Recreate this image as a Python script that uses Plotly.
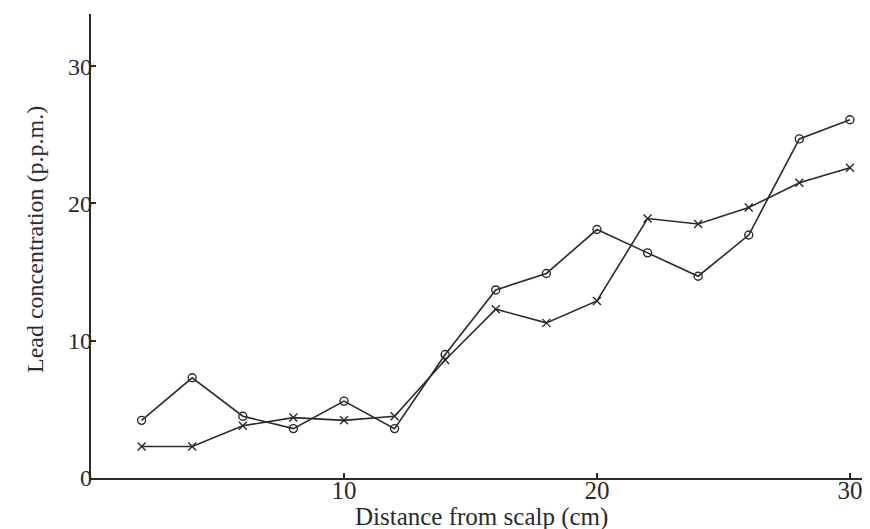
import plotly.graph_objects as go

distance_cm = [2, 4, 6, 8, 10, 12, 14, 16, 18, 20, 22, 24, 26, 28, 30]
lead_circles = [4.2, 7.3, 4.5, 3.6, 5.6, 3.6, 9.0, 13.7, 14.9, 18.1, 16.4, 14.7, 17.7, 24.7, 26.1]
lead_crosses = [2.3, 2.3, 3.8, 4.4, 4.2, 4.5, 8.6, 12.3, 11.3, 12.9, 18.9, 18.5, 19.7, 21.5, 22.6]
x_ticks = [10, 20, 30]
y_ticks = [0, 10, 20, 30]

ink = "#2a2a2a"
font_family = "Liberation Serif, Times New Roman, serif"

PLOT_W = 786  # plot area width in px
PLOT_H = 464  # plot area height in px

fig = go.Figure()
fig.add_trace(go.Scatter(
    x=distance_cm, y=lead_circles, mode="lines+markers",
    line=dict(color=ink, width=1.6),
    marker=dict(symbol="circle-open", size=8, color=ink, line=dict(width=1.4)),
    showlegend=False, cliponaxis=False,
))
fig.add_trace(go.Scatter(
    x=distance_cm, y=lead_crosses, mode="lines+markers",
    line=dict(color=ink, width=1.6),
    marker=dict(symbol="x-thin-open", size=8, color=ink, line=dict(width=1.4)),
    showlegend=False, cliponaxis=False,
))

fig.update_layout(
    width=870, height=529,
    margin=dict(l=83, r=1, t=6, b=59),
    paper_bgcolor="white", plot_bgcolor="white",
    font=dict(family=font_family, size=24, color=ink),
    # label-carrying axes, nudged closer to the drawn axis lines
    xaxis=dict(
        range=[0, 31.07], tickvals=x_ticks, ticks="", showline=False,
        showgrid=False, zeroline=False, tickfont=dict(size=25),
        anchor="free", position=5 / PLOT_H,
    ),
    yaxis=dict(
        range=[0, 33.8], tickvals=y_ticks, ticks="", showline=False,
        showgrid=False, zeroline=False, tickfont=dict(size=24),
        anchor="free", position=1 / PLOT_W,
    ),
    # line-and-tick axes
    xaxis2=dict(
        overlaying="x", matches="x", anchor="y", side="bottom",
        tickvals=x_ticks, ticks="inside", ticklen=5, tickwidth=1.5, tickcolor=ink,
        showline=True, linecolor=ink, linewidth=2, showticklabels=False,
        showgrid=False, zeroline=False,
    ),
    yaxis2=dict(
        overlaying="y", matches="y", anchor="x2", side="left",
        tickvals=y_ticks, ticks="inside", ticklen=5, tickwidth=1.5, tickcolor=ink,
        showline=True, linecolor=ink, linewidth=2, showticklabels=False,
        showgrid=False, zeroline=False,
    ),
    annotations=[
        dict(text="Distance from scalp (cm)", xref="paper", yref="paper",
             x=(473 - 83) / PLOT_W, y=-(509 - 470) / PLOT_H, xanchor="center", yanchor="middle",
             showarrow=False, font=dict(size=25)),
        dict(text="Lead concentration (p.p.m.)", xref="paper", yref="paper",
             x=-(83 - 27) / PLOT_W, y=(470 - 232) / PLOT_H, xanchor="center", yanchor="middle",
             textangle=-90, showarrow=False, font=dict(size=24)),
    ],
)

# invisible trace to activate the line-and-tick axes
fig.add_trace(go.Scatter(x=[distance_cm[0]], y=[lead_circles[0]], xaxis="x2", yaxis="y2",
                         mode="markers", marker=dict(opacity=0), showlegend=False,
                         hoverinfo="skip"))

fig.write_html("out.html")
